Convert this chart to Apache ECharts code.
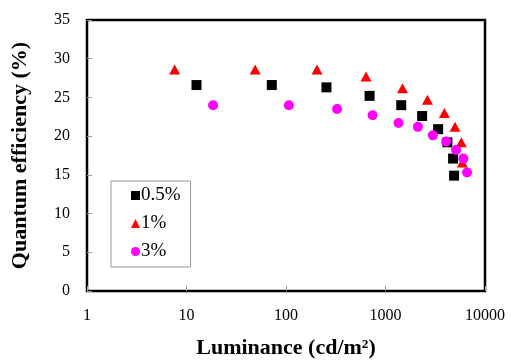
<!DOCTYPE html>
<html>
<head>
<meta charset="utf-8">
<script src="https://cdn.jsdelivr.net/npm/echarts@6/dist/echarts.min.js"></script>
<style>
  html, body { margin: 0; padding: 0; background: #fff; }
  #main { width: 511px; height: 364px; }
</style>
</head>
<body>
<div id="main"></div>
<script>
// 0.5% 掺杂
var lum05 = [12.6, 72, 255, 692, 1439, 2335, 3381, 4190, 4777, 4890];
var qe05 = [26.6, 26.6, 26.3, 25.2, 24.0, 22.6, 20.9, 19.2, 17.1, 14.9];
// 1% 掺杂
var lum1 = [7.6, 49, 205, 637, 1483, 2640, 3907, 5000, 5785, 5920];
var qe1 = [28.6, 28.6, 28.6, 27.7, 26.2, 24.7, 23.0, 21.2, 19.2, 16.6];
// 3% 掺杂
var lum3 = [18.5, 107, 326, 742, 1352, 2115, 2990, 4064, 5118, 6063, 6603];
var qe3 = [24.0, 24.0, 23.5, 22.7, 21.7, 21.2, 20.1, 19.3, 18.2, 17.1, 15.3];

var seriesNames = ['0.5%', '1%', '3%'];
var xTitle = 'Luminance (cd/m\u00B2)';
var yTitle = 'Quantum efficiency (%)';

function pairs(xs, ys) {
    var res = [];
    for (var i = 0; i < xs.length; i++) {
        res.push([xs[i], ys[i]]);
    }
    return res;
}

var myChart = echarts.init(document.getElementById('main'));
var font = '"Liberation Serif", "Times New Roman", serif';

option = {
    backgroundColor: '#fff',
    animation: false,
    grid: {
        left: 87, right: 26, top: 20, bottom: 70,
        show: true,
        borderColor: '#000',
        borderWidth: 2.5,
        backgroundColor: 'transparent'
    },
    legend: {
        left: 111, top: 181,
        width: 91, height: 81,
        orient: 'vertical',
        padding: [5, 10, 6, 20],
        itemGap: 9,
        itemWidth: 9, itemHeight: 9,
        borderColor: '#999',
        borderWidth: 1,
        textStyle: { fontFamily: font, fontSize: 19, color: '#000', padding: [0, 0, 0, -4] },
        data: seriesNames
    },
    xAxis: {
        type: 'log',
        logBase: 10,
        min: 1,
        max: 10000,
        name: xTitle,
        nameLocation: 'middle',
        nameGap: 46,
        nameTextStyle: { fontFamily: font, fontSize: 22, fontWeight: 'bold', color: '#000' },
        axisLine: { show: false },
        axisTick: { inside: true, length: 5, lineStyle: { color: '#999' } },
        minorTick: { show: false },
        splitLine: { show: false },
        axisLabel: {
            fontFamily: font, fontSize: 16, color: '#000', margin: 17,
            formatter: function (v) { return String(v); }
        }
    },
    yAxis: {
        type: 'value',
        min: 0,
        max: 35,
        interval: 5,
        name: yTitle,
        nameLocation: 'middle',
        nameGap: 56,
        nameTextStyle: { fontFamily: font, fontSize: 22, fontWeight: 'bold', color: '#000' },
        axisLine: { show: false },
        axisTick: { inside: true, length: 5, lineStyle: { color: '#999' } },
        splitLine: { show: false },
        axisLabel: { fontFamily: font, fontSize: 16, color: '#000', margin: 17 }
    },
    series: [
        {
            name: seriesNames[0],
            type: 'scatter',
            symbol: 'rect',
            symbolSize: 10,
            itemStyle: { color: '#000', opacity: 1 },
            data: pairs(lum05, qe05)
        },
        {
            name: seriesNames[1],
            type: 'scatter',
            symbol: 'triangle',
            symbolSize: [11, 10],
            itemStyle: { color: '#ff0000', opacity: 1 },
            data: pairs(lum1, qe1)
        },
        {
            name: seriesNames[2],
            type: 'scatter',
            symbol: 'circle',
            symbolSize: 10,
            itemStyle: { color: '#ff00ff', opacity: 1 },
            data: pairs(lum3, qe3)
        }
    ]
};

myChart.setOption(option);
window.addEventListener('resize', function () {
    myChart.resize();
});
</script>
</body>
</html>
